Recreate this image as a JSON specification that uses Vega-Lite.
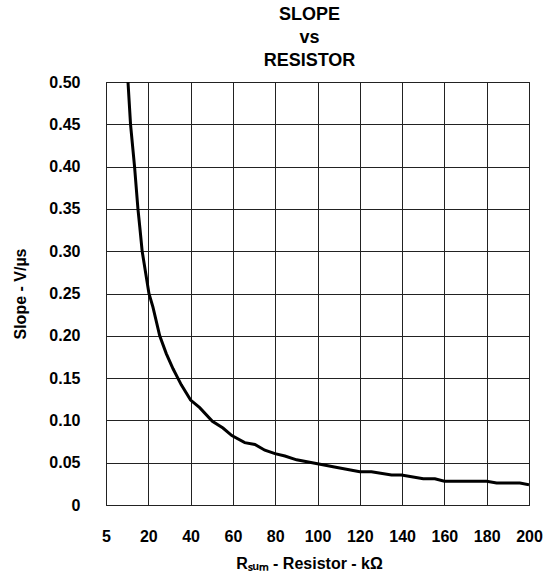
{
  "$schema": "https://vega.github.io/schema/vega-lite/v6.json",
  "width": 423,
  "height": 423,
  "autosize": {"type": "none"},
  "padding": {"left": 106, "top": 82, "right": 14, "bottom": 72},
  "background": "white",
  "title": {
    "text": ["SLOPE", "vs", "RESISTOR"],
    "font": "Liberation Sans",
    "fontSize": 18,
    "fontWeight": "bold",
    "color": "#000000",
    "lineHeight": 23,
    "anchor": "middle",
    "dx": -8,
    "offset": 4
  },
  "config": {
    "view": {"stroke": "#000000", "strokeWidth": 1},
    "axis": {
      "labelFont": "Liberation Sans",
      "labelFontSize": 16,
      "labelFontWeight": "bold",
      "labelColor": "#000000",
      "titleFont": "Liberation Sans",
      "titleFontSize": 16,
      "titleFontWeight": "bold",
      "titleColor": "#000000",
      "ticks": false,
      "domain": false,
      "gridColor": "#222222",
      "gridWidth": 1,
      "gridOpacity": 1,
      "labelFlush": false,
      "labelOverlap": false
    }
  },
  "data": {
    "values": [
      {"R": 10.4, "S": 0.50},
      {"R": 11.6, "S": 0.45},
      {"R": 13.5, "S": 0.40},
      {"R": 15.1, "S": 0.35},
      {"R": 16.0, "S": 0.328},
      {"R": 17.1, "S": 0.30},
      {"R": 20.3, "S": 0.25},
      {"R": 22.2, "S": 0.234},
      {"R": 25.4, "S": 0.20},
      {"R": 28.5, "S": 0.179},
      {"R": 31.7, "S": 0.161},
      {"R": 35.6, "S": 0.142},
      {"R": 40.0, "S": 0.124},
      {"R": 44.3, "S": 0.115},
      {"R": 50.3, "S": 0.099},
      {"R": 55.3, "S": 0.091},
      {"R": 59.5, "S": 0.082},
      {"R": 65.6, "S": 0.0737},
      {"R": 70.4, "S": 0.0716},
      {"R": 75.1, "S": 0.0648},
      {"R": 79.9, "S": 0.0607},
      {"R": 84.6, "S": 0.0579},
      {"R": 90.1, "S": 0.0534},
      {"R": 100.0, "S": 0.0487},
      {"R": 108.0, "S": 0.045},
      {"R": 120.0, "S": 0.0393},
      {"R": 125.5, "S": 0.0393},
      {"R": 135.0, "S": 0.0355},
      {"R": 139.7, "S": 0.0355},
      {"R": 150.0, "S": 0.031},
      {"R": 155.5, "S": 0.031},
      {"R": 160.0, "S": 0.028},
      {"R": 180.0, "S": 0.028},
      {"R": 184.7, "S": 0.026},
      {"R": 195.7, "S": 0.026},
      {"R": 200.0, "S": 0.024}
    ]
  },
  "mark": {"type": "line", "color": "#000000", "strokeWidth": 3, "clip": true},
  "encoding": {
    "x": {
      "field": "R",
      "type": "quantitative",
      "scale": {"domain": [0, 200], "nice": false, "zero": false},
      "axis": {
        "values": [0, 20, 40, 60, 80, 100, 120, 140, 160, 180, 200],
        "labelExpr": "datum.value === 0 ? '5' : datum.label",
        "labelPadding": 23,
        "title": "Rₛᵤₘ - Resistor - kΩ",
        "titleX": 203,
        "titlePadding": 11
      }
    },
    "y": {
      "field": "S",
      "type": "quantitative",
      "scale": {"domain": [0, 0.5], "nice": false},
      "axis": {
        "values": [0, 0.05, 0.1, 0.15, 0.2, 0.25, 0.3, 0.35, 0.4, 0.45, 0.5],
        "labelExpr": "datum.value === 0 ? '0' : format(datum.value, '.2f')",
        "labelPadding": 26,
        "title": "Slope - V/µs",
        "titlePadding": 20
      }
    }
  }
}
